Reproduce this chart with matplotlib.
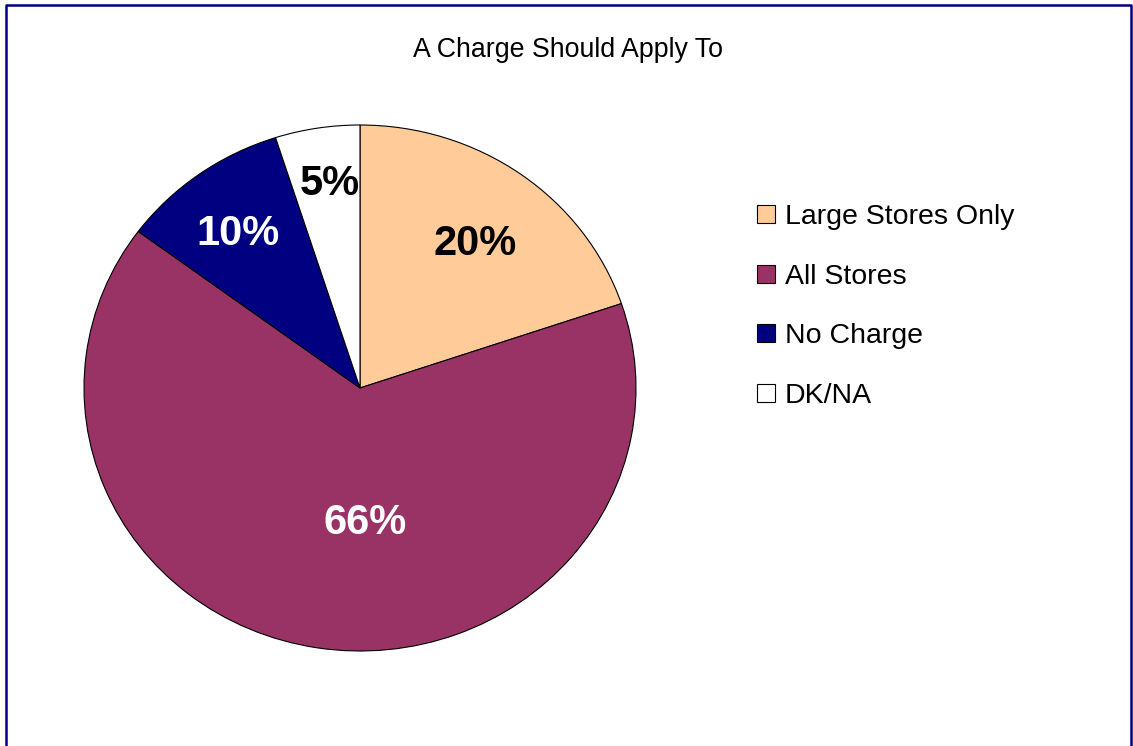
import numpy as np
import matplotlib
matplotlib.use("Agg")
import matplotlib.pyplot as plt
from matplotlib.patches import Rectangle
from matplotlib.lines import Line2D
from matplotlib.transforms import offset_copy

plt.rcParams['font.family'] = ['Liberation Sans', 'DejaVu Sans']

categories = ["Large Stores Only", "All Stores", "No Charge", "DK/NA"]
values = [20, 66, 10, 5]
colors = ["#FFCC99", "#993366", "#000080", "#FFFFFF"]
label_colors = ["black", "white", "white", "black"]
# label placement: radial fraction and angular nudge from the wedge mid-angle
label_radius = [0.70, 0.50, 0.745, 0.80]
label_turn = [-0.9, 10.9, 0.7, -1.1]
title = "A Charge Should Apply To"

W, H = 1133, 746
fig = plt.figure(figsize=(W / 100, H / 100), dpi=100)
fig.patch.set_facecolor("white")

# pie area (pixel geometry: centre, horizontal and vertical radius)
cx, cy, rx, ry = 360, 388, 276, 263
ax = fig.add_axes([(cx - rx) / W, (H - cy - ry) / H, 2 * rx / W, 2 * ry / H])
wedges, _ = ax.pie(values, colors=colors, startangle=90, counterclock=False,
                   wedgeprops=dict(edgecolor="black", linewidth=0.8))
ax.set_aspect("auto")
ax.set_xlim(-1, 1)
ax.set_ylim(-1, 1)
ax.axis("off")

lbl_tr = offset_copy(ax.transData, fig=fig, x=0, y=-4, units="dots")
for w, v, c, r, t in zip(wedges, values, label_colors, label_radius, label_turn):
    mid = np.deg2rad((w.theta1 + w.theta2) / 2 + t)
    ax.text(r * np.cos(mid), r * np.sin(mid), f"{v}%", ha="center", va="center",
            fontsize=30, fontweight="bold", color=c, transform=lbl_tr)

fig.text(568 / W, 1 - 50 / H, title, ha="center", va="center", fontsize=19.3)

# legend
for i, (cat, col) in enumerate(zip(categories, colors)):
    yc = 214 + i * 59.7
    fig.add_artist(Rectangle((757 / W, 1 - (yc + 9) / H), 18 / W, 18 / H,
                             transform=fig.transFigure, facecolor=col,
                             edgecolor="black", linewidth=0.8))
    fig.text(785 / W, 1 - yc / H, cat, ha="left", va="center_baseline",
             fontsize=20.5)

# outer frame (left, top, right edges)
frame = "#000080"
xl, xr, yt = 6 / W, 1131 / W, 1 - 5 / H
fig.add_artist(Line2D([xl, xl, xr, xr], [0, yt, yt, 0], transform=fig.transFigure,
                      color=frame, linewidth=1.8))

fig.savefig("out.png", dpi=100)
